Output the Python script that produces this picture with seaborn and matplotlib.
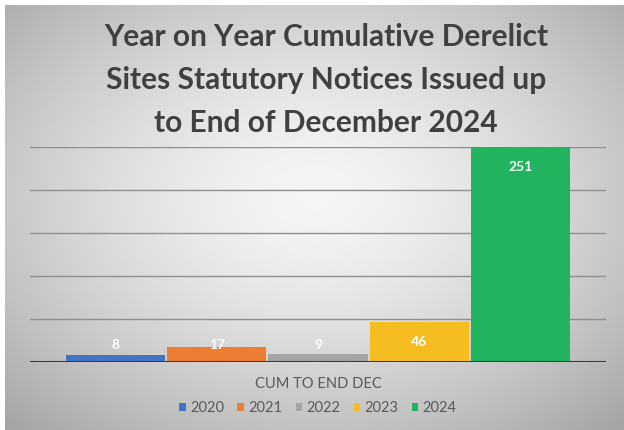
"""
Year on year cumulative derelict sites notices - bar chart
"""
import numpy as np
import pandas as pd
import matplotlib.pyplot as plt
import seaborn as sns

# data
years = ['2020', '2021', '2022', '2023', '2024']
notices = [8, 17, 9, 46, 251]
period = 'CUM TO END DEC'
bar_colors = ['#4472C4', '#ED7D31', '#A5A5A5', '#F5BD1F', '#21B35E']
y_max = 250
grid_ticks = [50, 100, 150, 200, 250]

df = pd.DataFrame({'period': [period] * len(years), 'year': years, 'notices': notices})

sns.set_style('white')
plt.rcParams['font.family'] = ['Lato', 'DejaVu Sans']

fig = plt.figure(figsize=(6.24, 4.30), dpi=100)

# gradient background (light centre, grey edges), white strip top/left
bg = fig.add_axes([5 / 624, 0, 1 - 5 / 624, 1 - 5 / 430], zorder=-10)
gx, gy = np.meshgrid(np.linspace(-1, 1, 300), np.linspace(-1, 1, 200))
r = np.sqrt(((gx - 0.0) / 1.05) ** 2 + ((gy + 0.1) / 1.05) ** 2)
shade = 0.96 - 0.19 * np.clip(r, 0, 1.4) ** 1.5
bg.imshow(shade, cmap='gray', vmin=0, vmax=1, aspect='auto', extent=[0, 1, 0, 1])
bg.axis('off')

ax = fig.add_axes([30 / 624, 1 - 362 / 430, 576 / 624, 215 / 430])
ax.patch.set_alpha(0)

sns.barplot(data=df, x='period', y='notices', hue='year', palette=bar_colors,
            width=0.88, gap=0.02, saturation=1, linewidth=0, legend=True, ax=ax, zorder=3)

ax.set_ylim(0, y_max)
ax.set_yticks(grid_ticks)
ax.set_yticklabels([])
ax.tick_params(axis='y', length=0)
ax.tick_params(axis='x', length=0, pad=11, labelsize=10.5, labelcolor='#595959')
for t in grid_ticks:
    ax.axhline(t, color='#8f8f8f', lw=1, zorder=1)
ax.axhline(0, color='#3a3a3a', lw=2.2, zorder=4)
sns.despine(ax=ax, left=True, bottom=True)
ax.set_xlabel('')
ax.set_ylabel('')

# value labels (inside end, pushed up for short bars)
for bar, v in zip(ax.patches, notices):
    ypos = max(min(v, y_max) - 23, 20)
    ax.text(bar.get_x() + bar.get_width() / 2, ypos, str(v), ha='center', va='center',
            color='white', fontsize=10, fontweight='bold', zorder=5)

# legend under the axis label
handles, labels = ax.get_legend_handles_labels()
ax.legend(handles, labels, loc='upper center', bbox_to_anchor=(0.5, -0.12), ncol=5,
          frameon=False, fontsize=10.5, handlelength=0.45, handleheight=0.45,
          handletextpad=0.3, columnspacing=0.9, labelcolor='#595959')

fig.text(326 / 624, 1 - 80 / 430,
         'Year on Year Cumulative Derelict\nSites Statutory Notices Issued up\nto End of December 2024',
         ha='center', va='center', fontsize=21.5, fontweight='bold', color='#404040',
         linespacing=1.66)

plt.savefig('out.png', dpi=100)
